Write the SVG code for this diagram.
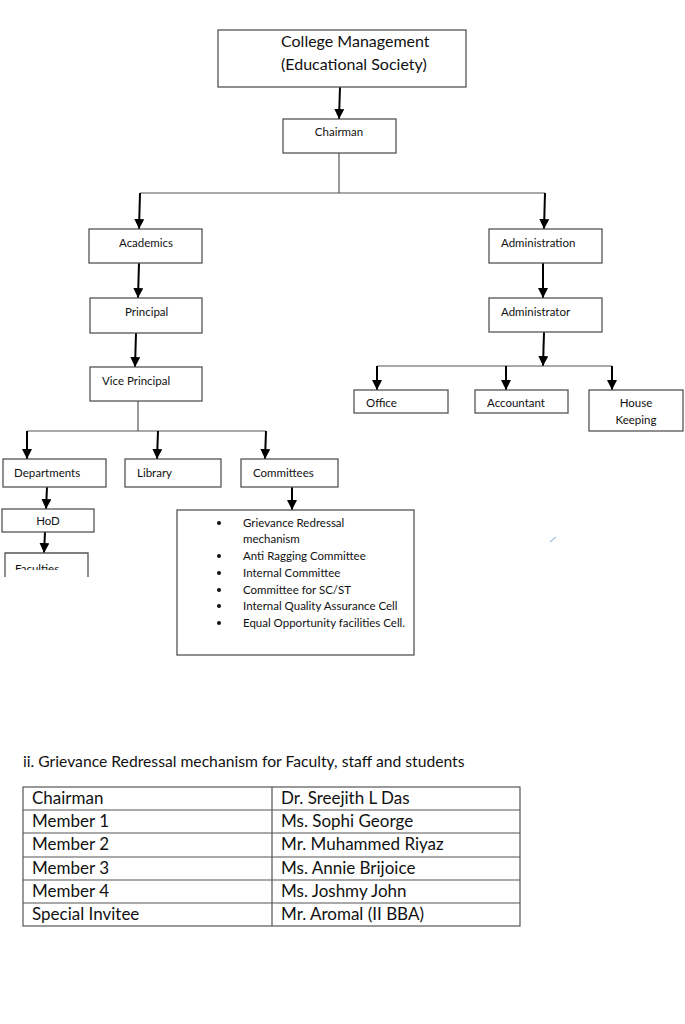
<svg xmlns="http://www.w3.org/2000/svg" width="685" height="1024" viewBox="0 0 685 1024">
<defs>
<style>
.box{fill:#fff;stroke:#555;stroke-width:1.3}
.t{font-family:Lato,"Liberation Sans",sans-serif;font-size:11.5px;fill:#111}
.big{font-family:Lato,"Liberation Sans",sans-serif;font-size:16px;fill:#111}
.tb{font-family:Lato,"Liberation Sans",sans-serif;font-size:17px;fill:#111}
.ttl{font-family:Lato,"Liberation Sans",sans-serif;font-size:15.7px;fill:#111}
.arr{stroke:#000;stroke-width:2;fill:none;marker-end:url(#ah)}
.ln{stroke:#555;stroke-width:1.2;fill:none}
.grid{stroke:#555;stroke-width:1.2;fill:none}
</style>
<marker id="ah" viewBox="0 0 10 10" refX="10" refY="5" markerWidth="10" markerHeight="10" markerUnits="userSpaceOnUse" orient="auto">
<path d="M0,0 L10,5 L0,10 Z" fill="#000"/>
</marker>
<clipPath id="facclip"><rect x="5" y="553" width="83" height="17"/></clipPath>
</defs>
<rect width="685" height="1024" fill="#fff"/>

<g id="connectors">
<line class="arr" x1="340" y1="87" x2="339" y2="119"/>
<line class="ln" x1="339" y1="153" x2="339" y2="193"/>
<line class="ln" x1="140" y1="193" x2="545" y2="193"/>
<line class="arr" x1="140" y1="193" x2="139" y2="229"/>
<line class="arr" x1="545" y1="193" x2="544" y2="229"/>
<line class="arr" x1="139" y1="263" x2="138" y2="298"/>
<line class="arr" x1="136" y1="333" x2="135" y2="367"/>
<line class="ln" x1="138" y1="401" x2="138" y2="431"/>
<line class="ln" x1="27" y1="431" x2="266" y2="431"/>
<line class="arr" x1="27" y1="431" x2="27" y2="459"/>
<line class="arr" x1="158" y1="431" x2="157" y2="459"/>
<line class="arr" x1="266" y1="431" x2="265" y2="459"/>
<line class="arr" x1="47" y1="487" x2="46" y2="509"/>
<line class="arr" x1="45" y1="532" x2="44" y2="553"/>
<line class="arr" x1="292" y1="487" x2="292" y2="510"/>
<line class="arr" x1="543" y1="263" x2="543" y2="298"/>
<line class="arr" x1="544" y1="332" x2="543" y2="366"/>
<line class="ln" x1="377" y1="366" x2="612" y2="366"/>
<line class="arr" x1="377" y1="366" x2="377" y2="390"/>
<line class="arr" x1="506" y1="366" x2="506" y2="390"/>
<line class="arr" x1="612" y1="366" x2="612" y2="390"/>
</g>

<g id="college">
<rect class="box" x="218" y="30" width="248" height="57"/>
<text class="big" x="281" y="47">College Management</text>
<text class="big" x="281" y="70">(Educational Society)</text>
</g>
<g id="chairman">
<rect class="box" x="283" y="119" width="113" height="34"/>
<text class="t" x="339" y="136" text-anchor="middle">Chairman</text>
</g>
<g id="academics">
<rect class="box" x="89" y="229" width="113" height="34"/>
<text class="t" x="119" y="247">Academics</text>
</g>
<g id="principal">
<rect class="box" x="90" y="298" width="112" height="35"/>
<text class="t" x="125" y="316">Principal</text>
</g>
<g id="viceprincipal">
<rect class="box" x="90" y="367" width="112" height="34"/>
<text class="t" x="102" y="385">Vice Principal</text>
</g>
<g id="administration">
<rect class="box" x="489" y="229" width="113" height="34"/>
<text class="t" x="501" y="247">Administration</text>
</g>
<g id="administrator">
<rect class="box" x="489" y="298" width="113" height="34"/>
<text class="t" x="501" y="316">Administrator</text>
</g>
<g id="office">
<rect class="box" x="354" y="390" width="94" height="23"/>
<text class="t" x="366" y="407">Office</text>
</g>
<g id="accountant">
<rect class="box" x="475" y="390" width="93" height="23"/>
<text class="t" x="487" y="407">Accountant</text>
</g>
<g id="housekeeping">
<rect class="box" x="589" y="390" width="94" height="41"/>
<text class="t" x="636" y="407" text-anchor="middle">House</text>
<text class="t" x="636" y="424" text-anchor="middle">Keeping</text>
</g>
<g id="departments">
<rect class="box" x="3" y="459" width="103" height="28"/>
<text class="t" x="14" y="477">Departments</text>
</g>
<g id="library">
<rect class="box" x="125" y="459" width="96" height="28"/>
<text class="t" x="137" y="477">Library</text>
</g>
<g id="committees">
<rect class="box" x="241" y="459" width="97" height="28"/>
<text class="t" x="253" y="477">Committees</text>
</g>
<g id="hod">
<rect class="box" x="2" y="509" width="92" height="23"/>
<text class="t" x="48" y="525" text-anchor="middle">HoD</text>
</g>
<g id="faculties">
<path class="box" d="M5,577 L5,553 L88,553 L88,577" fill="none"/>
<text class="t" x="15" y="573" clip-path="url(#facclip)">Faculties</text>
</g>
<g id="committeelist">
<rect class="box" x="177" y="510" width="237" height="145"/>
<g class="t">
<circle cx="219" cy="523" r="2"/>
<text class="t" x="243" y="527">Grievance Redressal</text>
<text class="t" x="243" y="543">mechanism</text>
<circle cx="219" cy="556" r="2"/>
<text class="t" x="243" y="560">Anti Ragging Committee</text>
<circle cx="219" cy="573" r="2"/>
<text class="t" x="243" y="577">Internal Committee</text>
<circle cx="219" cy="590" r="2"/>
<text class="t" x="243" y="594">Committee for SC/ST</text>
<circle cx="219" cy="606" r="2"/>
<text class="t" x="243" y="610">Internal Quality Assurance Cell</text>
<circle cx="219" cy="623" r="2"/>
<text class="t" x="243" y="627">Equal Opportunity facilities Cell.</text>
</g>
</g>
<line x1="550" y1="542" x2="556" y2="537" stroke="#6fa0d8" stroke-width="1"/>

<g id="grievance-table">
<text class="ttl" x="23" y="767">ii. Grievance Redressal mechanism for Faculty, staff and students</text>
<rect class="grid" x="23" y="787" width="497" height="139"/>
<line class="grid" x1="272" y1="787" x2="272" y2="926"/>
<line class="grid" x1="23" y1="810" x2="520" y2="810"/>
<line class="grid" x1="23" y1="833" x2="520" y2="833"/>
<line class="grid" x1="23" y1="857" x2="520" y2="857"/>
<line class="grid" x1="23" y1="880" x2="520" y2="880"/>
<line class="grid" x1="23" y1="903" x2="520" y2="903"/>
<text class="tb" x="32" y="804">Chairman</text>
<text class="tb" x="281" y="804">Dr. Sreejith L Das</text>
<text class="tb" x="32" y="827">Member 1</text>
<text class="tb" x="281" y="827">Ms. Sophi George</text>
<text class="tb" x="32" y="850">Member 2</text>
<text class="tb" x="281" y="850">Mr. Muhammed Riyaz</text>
<text class="tb" x="32" y="874">Member 3</text>
<text class="tb" x="281" y="874">Ms. Annie Brijoice</text>
<text class="tb" x="32" y="897">Member 4</text>
<text class="tb" x="281" y="897">Ms. Joshmy John</text>
<text class="tb" x="32" y="920">Special Invitee</text>
<text class="tb" x="281" y="920">Mr. Aromal (II BBA)</text>
</g>
</svg>
